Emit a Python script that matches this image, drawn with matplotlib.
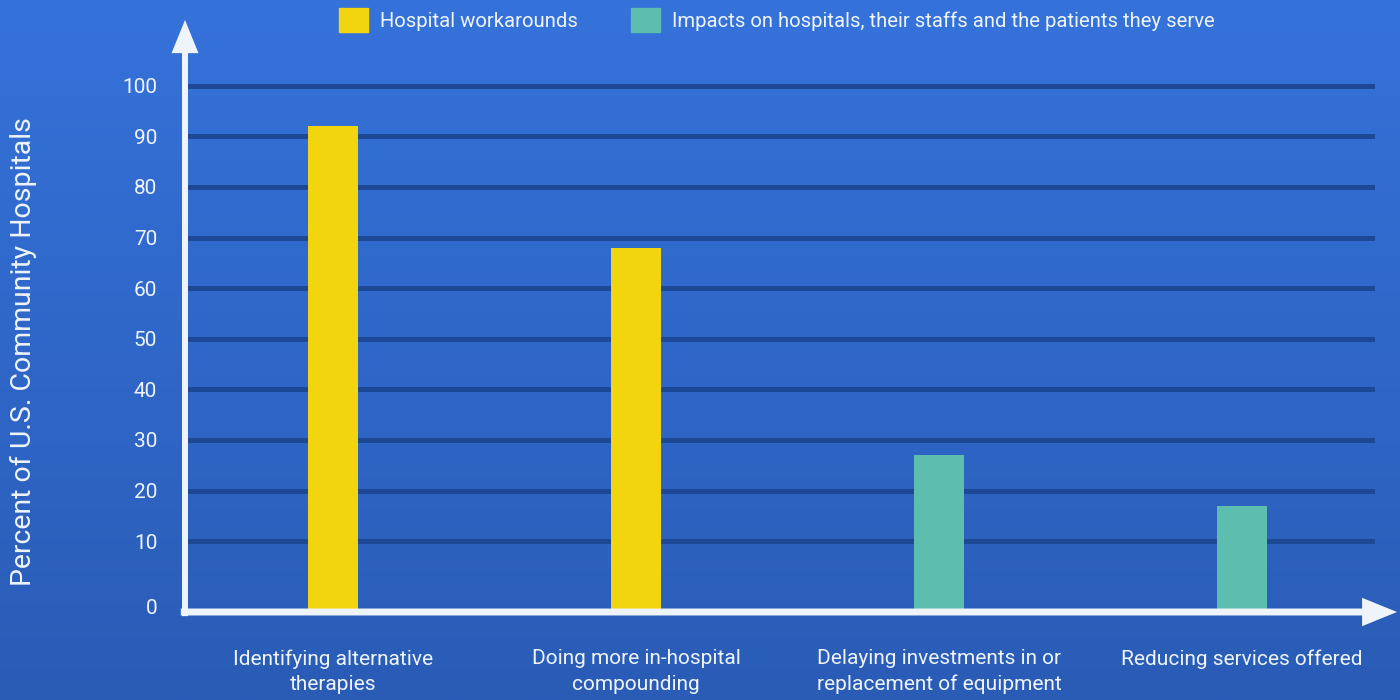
import numpy as np
import matplotlib.pyplot as plt
from matplotlib.patches import Patch

# Data
categories = ['Identifying alternative\ntherapies',
              'Doing more in-hospital\ncompounding',
              'Delaying investments in or\nreplacement of equipment',
              'Reducing services offered']
values = [92, 68, 27, 17]
groups = ['work', 'work', 'impact', 'impact']
legend_labels = ['Hospital workarounds',
                 'Impacts on hospitals, their staffs and the patients they serve']
ytick_vals = [10, 20, 30, 40, 50, 60, 70, 80, 90, 100]

yellow = '#f2d40f'
teal = '#5dbdaf'
white = '#eef4fa'
grid_col = '#1d4896'
colors = {'work': yellow, 'impact': teal}

plt.rcParams['font.family'] = ['Roboto', 'DejaVu Sans']

fig = plt.figure(figsize=(14, 7), dpi=100)

# gradient background
bg = fig.add_axes([0, 0, 1, 1], zorder=-10)
top = np.array([53, 114, 218]) / 255
bot = np.array([42, 92, 182]) / 255
t = np.linspace(0, 1, 256)[:, None]
grad = top[None, :] * (1 - t) + bot[None, :] * t
bg.imshow(grad[:, None, :], aspect='auto', extent=[0, 1, 0, 1])
bg.axis('off')

ybase = -4
ax = fig.add_axes([185 / 1400, 1 - 612 / 700, (1375 - 185) / 1400, (612 - 20) / 700])
ax.set_facecolor('none')
ax.set_xlim(-0.49, 3.44)
ax.set_ylim(ybase, 113)

for v in ytick_vals:
    ax.axhline(v, xmin=0.004, xmax=1, color=grid_col, lw=3.6, zorder=1)

x = np.arange(len(categories))
ax.bar(x, [v - ybase for v in values], bottom=ybase, width=0.165,
       color=[colors[g] for g in groups], zorder=2)

for s in ax.spines.values():
    s.set_visible(False)

ax.set_xticks(x)
ax.set_xticklabels(categories, fontsize=15, color=white, linespacing=1.4)
ax.tick_params(axis='x', length=0, pad=27)
ax.set_yticks([-3] + ytick_vals)
ax.set_yticklabels(['0'] + [str(v) for v in ytick_vals], fontsize=15, color=white)
ax.tick_params(axis='y', length=0, pad=20)

ax.set_ylabel('Percent of U.S. Community Hospitals', fontsize=20.5, color=white)
ax.yaxis.set_label_coords(-0.124, 0.44)

# axis arrows
ax.annotate('', xy=(0, 1.0), xytext=(0, -0.007), xycoords='axes fraction',
            arrowprops=dict(arrowstyle='-|>,head_length=1.6,head_width=0.65',
                            lw=4.3, color=white, shrinkA=0, shrinkB=0, mutation_scale=10,
                            capstyle='butt', joinstyle='miter'),
            annotation_clip=False, zorder=5)
ax.annotate('', xy=(1.0185, 0), xytext=(-0.0035, 0), xycoords='axes fraction',
            arrowprops=dict(arrowstyle='-|>,head_length=1.6,head_width=0.65',
                            lw=5, color=white, shrinkA=0, shrinkB=0, mutation_scale=10,
                            capstyle='butt', joinstyle='miter'),
            annotation_clip=False, zorder=5)

handles = [Patch(color=yellow), Patch(color=teal)]
fig.legend(handles, legend_labels, loc='center', bbox_to_anchor=(0.555, 0.971),
           ncol=2, frameon=False, fontsize=14.6, labelcolor=white,
           handlelength=1.45, handleheight=1.45, columnspacing=2.6, handletextpad=0.6)

fig.savefig('out.png', dpi=100)
